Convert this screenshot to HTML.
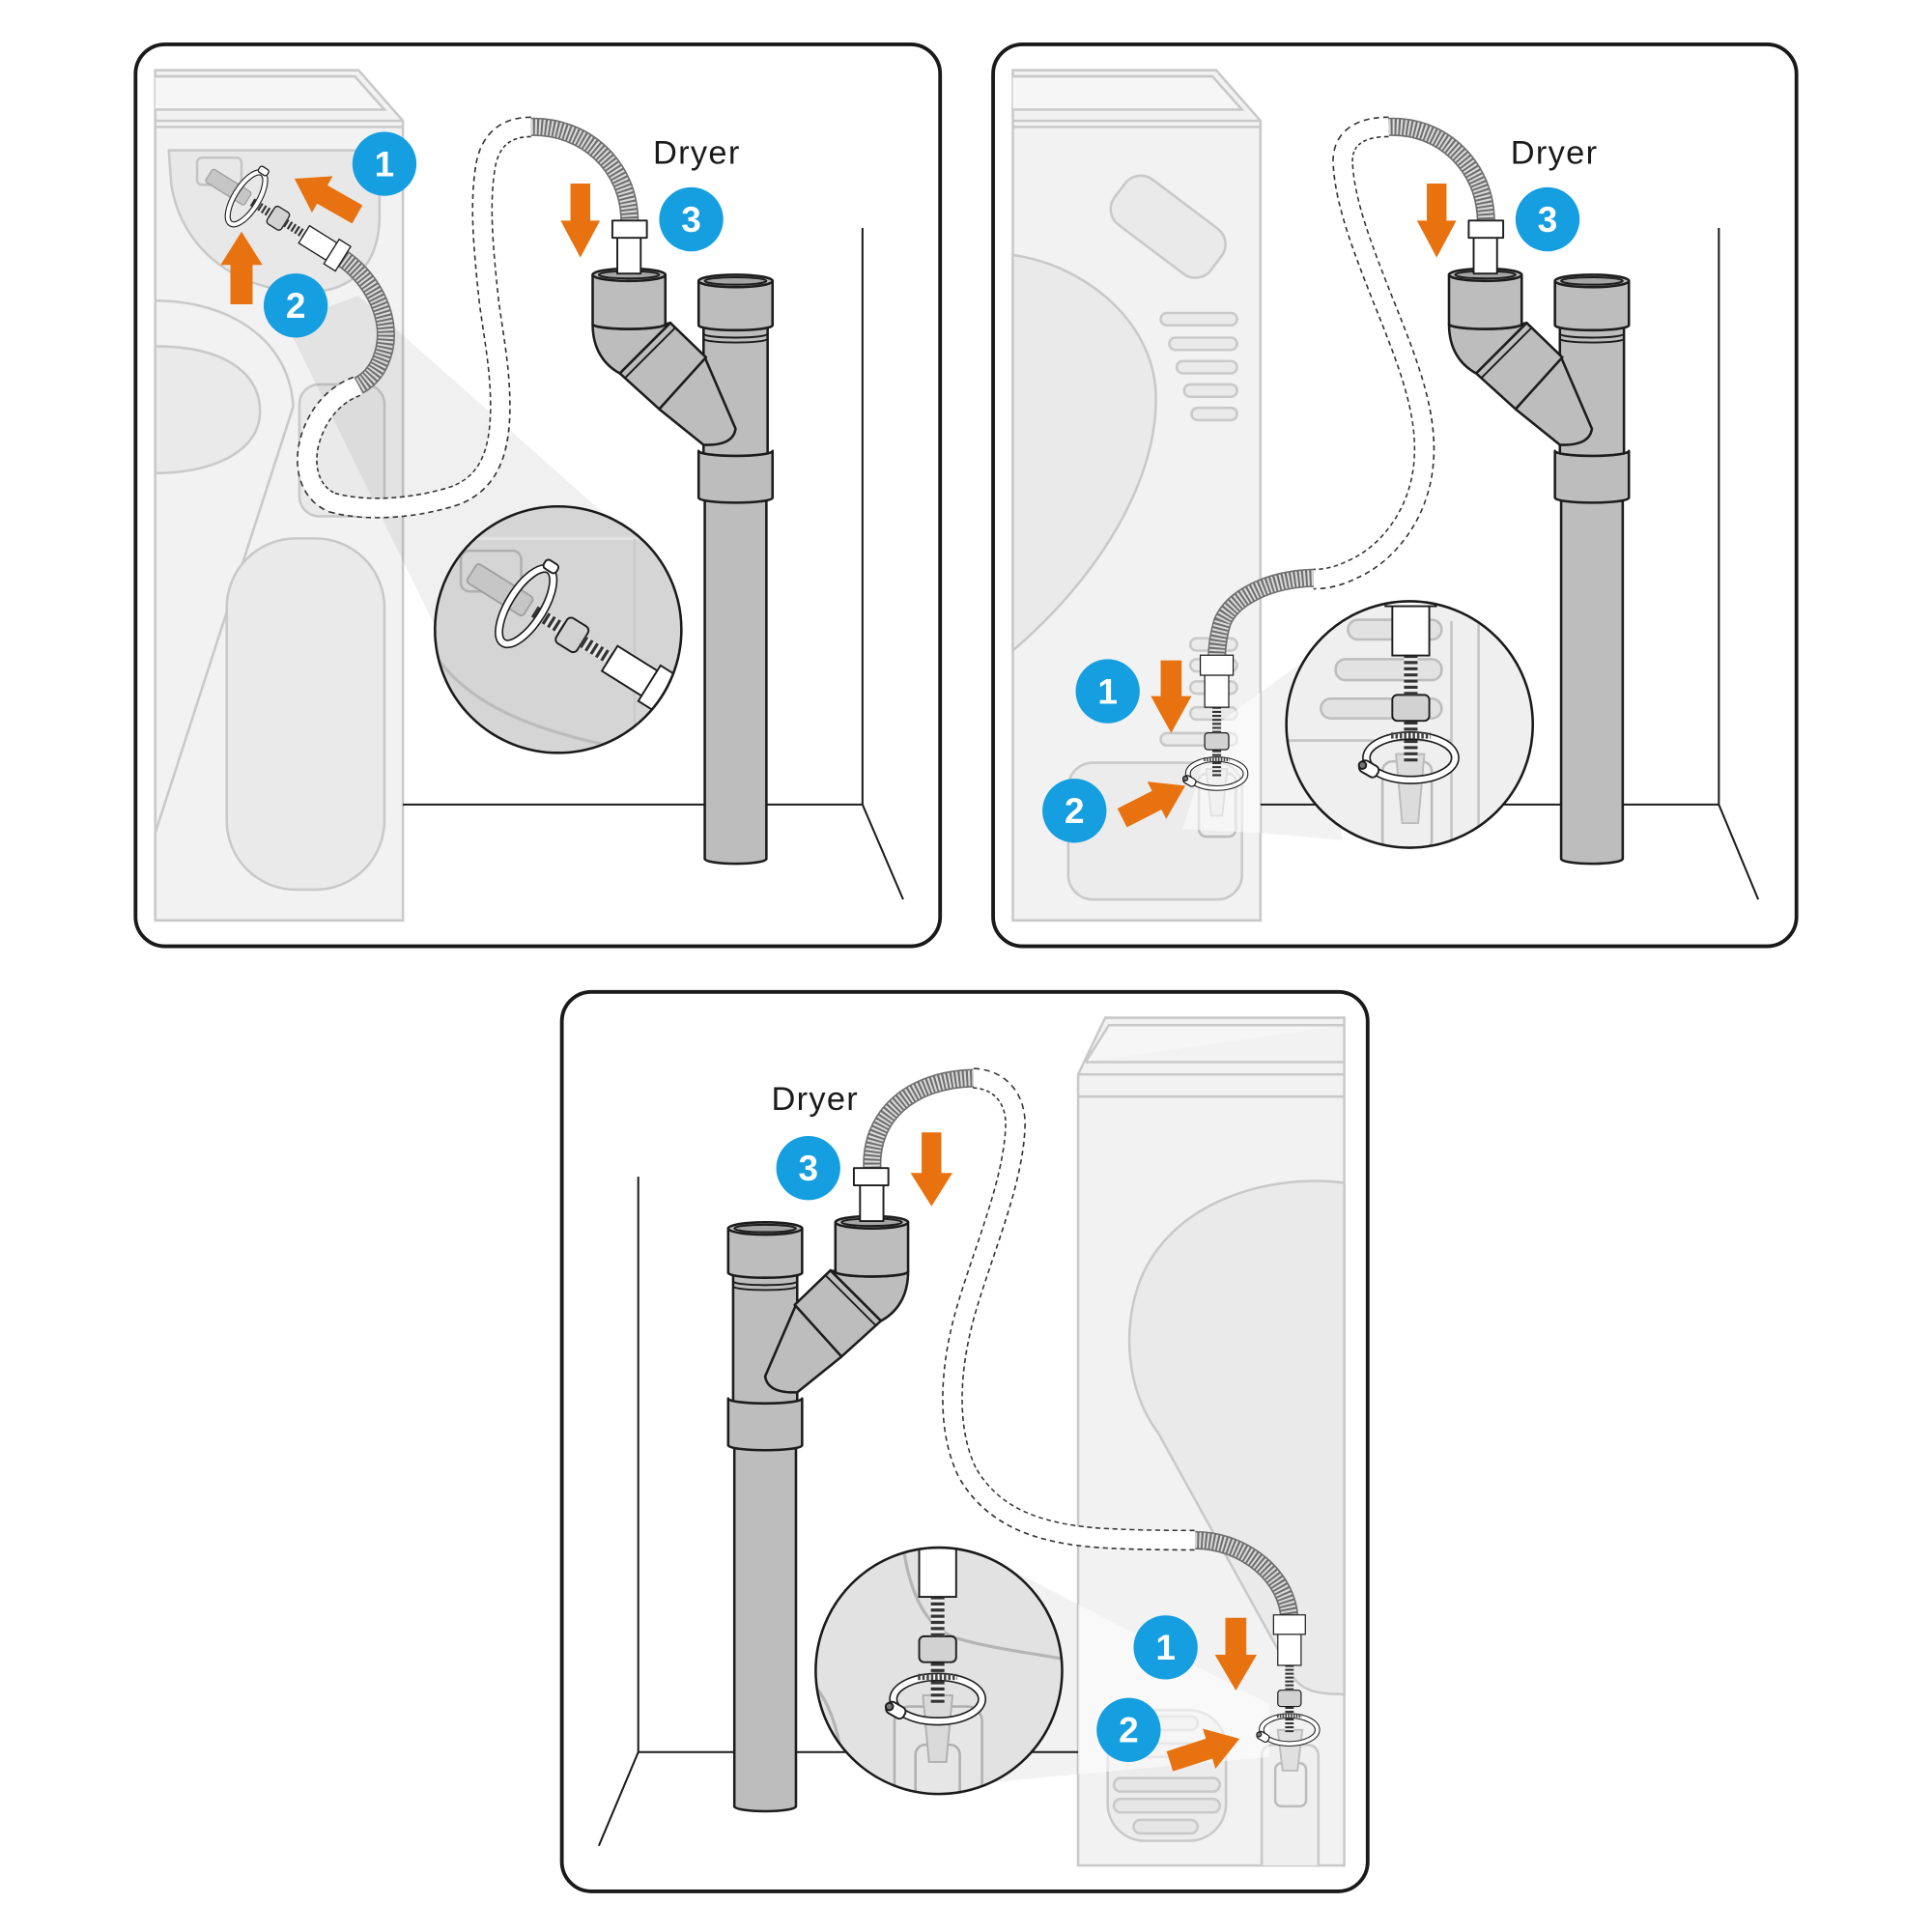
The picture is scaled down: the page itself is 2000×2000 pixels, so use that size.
<!DOCTYPE html>
<html><head><meta charset="utf-8">
<style>html,body{margin:0;padding:0;background:#fff}svg{display:block}</style>
</head><body>
<svg width="2000" height="2000" viewBox="0 0 1568 1568" xmlns="http://www.w3.org/2000/svg" font-family="'Liberation Sans', sans-serif">
<defs>
 <clipPath id="c1"><circle cx="453" cy="511" r="100"/></clipPath>
 <clipPath id="c2"><circle cx="1144" cy="588" r="100"/></clipPath>
 <clipPath id="c3"><circle cx="762" cy="1356" r="100"/></clipPath>
 <g id="pipe" stroke="#1c1c1c" stroke-width="2" stroke-linejoin="round" fill="#bdbdbd">
  <path d="M572,400 L572,697 A25,4 0 0 0 622,697 L622,400 Z"/>
  <rect x="571" y="262" width="52" height="110"/>
  <path d="M571,271 A26,3 0 0 0 623,271 M571,275 A26,3 0 0 0 623,275" fill="none" stroke-width="1.5"/>
  <path d="M567,366 A30,4 0 0 0 627,366 L627,404 A30,4 0 0 1 567,404 Z"/>
  <path d="M567,228 L567,264 A30,4 0 0 0 627,264 L627,228 Z"/>
  <ellipse cx="597" cy="228" rx="30" ry="5"/>
  <ellipse cx="597" cy="228" rx="25" ry="3" fill="#a5a5a5" stroke-width="1.5"/>
  <path d="M572,290 L597,348 Q595,362 571,361 L535,332 Z"/>
  <path d="M503,303 L544,262 L573,290 L535,332 Z"/>
  <path d="M507,307 L548,266" fill="none" stroke-width="1.5"/>
  <path d="M481,263 C481,283 490,296 503,303 L544,262 L540,263 A29.5,4 0 0 1 481,263 Z"/>
  <path d="M481,223 L481,263 A29.5,4 0 0 0 540,263 L540,223 Z"/>
  <ellipse cx="510.5" cy="223" rx="29.5" ry="5"/>
  <ellipse cx="510.5" cy="223" rx="24.5" ry="3" fill="#a5a5a5" stroke-width="1.5"/>
  <rect x="501" y="192" width="19" height="30" fill="#fff" stroke-width="1.5"/>
  <rect x="497" y="179" width="28" height="14" fill="#fff" stroke-width="1.5"/>
 </g>
 <g id="connD" stroke="#1c1c1c" stroke-width="1.5">
  <rect x="-52" y="-9" width="54" height="18" rx="3" fill="#c6c6c6" stroke="#a0a0a0"/>
  <line x1="8" y1="0" x2="34" y2="0" stroke="#e8e8e8" stroke-width="10"/>
  <line x1="8" y1="0" x2="34" y2="0" stroke="#333" stroke-width="10" stroke-dasharray="2.5 2.5"/>
  <rect x="34" y="-12" width="20" height="24" rx="4" fill="#d2d2d2"/>
  <line x1="54" y1="0" x2="80" y2="0" stroke="#e8e8e8" stroke-width="10"/>
  <line x1="54" y1="0" x2="80" y2="0" stroke="#333" stroke-width="10" stroke-dasharray="2.5 2.5"/>
  <rect x="80" y="-12" width="38" height="24" fill="#fff"/>
  <rect x="118" y="-17" width="16" height="34" fill="#fff"/>
  <ellipse cx="0" cy="0" rx="14" ry="35" fill="none" stroke="#1c1c1c" stroke-width="7"/>
  <ellipse cx="0" cy="0" rx="14" ry="35" fill="none" stroke="#fff" stroke-width="4.5"/>
  <rect x="-6" y="-42" width="12" height="8" rx="3" fill="#fff"/>
 </g>
 <g id="connV" stroke="#1c1c1c" stroke-width="1.5">
  <line x1="0" y1="6" x2="0" y2="-27" stroke="#eee" stroke-width="11"/>
  <line x1="0" y1="6" x2="0" y2="-27" stroke="#333" stroke-width="11" stroke-dasharray="2.5 2.5"/>
  <rect x="-15" y="-48" width="30" height="21" rx="4" fill="#d2d2d2"/>
  <line x1="0" y1="-48" x2="0" y2="-80" stroke="#eee" stroke-width="11"/>
  <line x1="0" y1="-48" x2="0" y2="-80" stroke="#333" stroke-width="11" stroke-dasharray="2.5 2.5"/>
  <rect x="-15" y="-120" width="30" height="40" fill="#fff"/>
  <rect x="-20.5" y="-145" width="41" height="25" fill="#fff"/>
  <ellipse cx="0" cy="3" rx="36" ry="18" fill="none" stroke="#1c1c1c" stroke-width="7"/>
  <ellipse cx="0" cy="3" rx="36" ry="18" fill="none" stroke="#fff" stroke-width="4.5"/>
  <line x1="-16" y1="-15" x2="16" y2="-15" stroke="#444" stroke-width="5" stroke-dasharray="2 1.5"/>
  <g transform="translate(-34,12) rotate(30)"><rect x="-8" y="-5" width="16" height="10" rx="4" fill="#fff"/><circle cx="-6" cy="0" r="3" fill="#777"/></g>
 </g>
</defs>

<!-- ================= PANEL 1 ================= -->
<g stroke="#c9c9c9" stroke-width="2" fill="#f2f2f2">
 <path d="M126,57 L291,57 L327,98 L327,747 L126,747 Z"/>
 <path d="M126,62 L288,62 L312,89 L126,89" fill="#f6f6f6"/>
 <path d="M126,98 L327,98 M126,103 L327,103" fill="none"/>
 <path d="M137,122 L308,122 L308,175 C308,215 285,237 250,237 C195,237 148,205 139,150 Z" fill="#e8e8e8"/>
 <rect x="160" y="128" width="36" height="22" rx="4" fill="none" stroke="#c4c4c4"/>
 <path d="M126,244 C185,244 235,275 238,330 L126,676" fill="none"/>
 <path d="M126,281 C185,281 212,305 211,335 C210,368 170,384 126,384 Z" fill="#eaeaea"/>
 <rect x="243" y="312" width="69" height="107" rx="16" fill="#eaeaea"/>
 <rect x="184" y="437" width="128" height="285" rx="56" fill="#eaeaea"/>
</g>
<polygon points="232,262 291,240 505,430 355,512" fill="#000" fill-opacity="0.06"/>
<g stroke="#1c1c1c" stroke-width="1.6" fill="none">
 <path d="M700,185 L700,653 L733,730 M327,653 L700,653"/>
</g>
<g clip-path="url(#c1)">
 <rect x="350" y="408" width="206" height="206" fill="#d5d5d5"/>
 <path d="M350,437 L556,437" stroke="#e2e2e2" stroke-width="2.5"/>
 <path d="M515,437 L515,610" stroke="#cbcbcb" stroke-width="1.5"/>
 <path d="M352,530 C375,565 420,592 510,608" stroke="#bcbcbc" stroke-width="2.5" fill="none"/>
 <rect x="374" y="447" width="49" height="33" rx="7" fill="none" stroke="#b0b0b0" stroke-width="2"/>
 <use href="#connD" transform="translate(427,492) rotate(32)"/>
</g>
<circle cx="453" cy="511" r="100" fill="none" stroke="#1a1a1a" stroke-width="2"/>
<!-- hoses -->
<path d="M431,103 C412,103 398,112 394,135 C389,165 392,200 397,246 C401,275 406,300 406,330 C406,370 395,392 370,402 C340,412 300,416 270,408 C250,400 244,375 254,350 C262,330 276,318 291,313" fill="none" stroke="#333" stroke-width="17" stroke-dasharray="4 3"/>
<path d="M431,103 C412,103 398,112 394,135 C389,165 392,200 397,246 C401,275 406,300 406,330 C406,370 395,392 370,402 C340,412 300,416 270,408 C250,400 244,375 254,350 C262,330 276,318 291,313" fill="none" stroke="#fff" stroke-width="14.5"/>
<g fill="none">
 <path d="M431,103 C475,102 511,135 511,180" stroke="#6e6e6e" stroke-width="15"/>
 <path d="M431,103 C475,102 511,135 511,180" stroke="#dadada" stroke-width="12.5" stroke-dasharray="1.6 1.6"/>
 <path d="M277,209 C300,224 318,255 312,283 C308,300 300,308 291,313" stroke="#6e6e6e" stroke-width="15"/>
 <path d="M277,209 C300,224 318,255 312,283 C308,300 300,308 291,313" stroke="#dadada" stroke-width="12.5" stroke-dasharray="1.6 1.6"/>
</g>
<use href="#pipe"/>
<use href="#connD" transform="translate(200,161) rotate(32) scale(0.69)"/>
<g fill="#e8720f">
 <polygon points="294.2,166.6 265.8,150.4 270,143 239,145 253.2,172.6 257.4,165.2 285.8,181.4"/>
 <polygon points="187,247 187,215 179,215 196,188 213,215 205,215 205,247"/>
 <polygon points="463,149 463,179 455,179 471,209 487,179 479,179 479,149"/>
</g>
<g fill="#159ee0"><circle cx="312" cy="133" r="26"/><circle cx="240" cy="248" r="26"/><circle cx="561" cy="178" r="26"/></g>
<g fill="#fff" font-weight="bold" font-size="29" text-anchor="middle">
 <text x="312" y="143">1</text><text x="240" y="258">2</text><text x="561" y="188">3</text>
</g>
<text x="530" y="133" font-size="27" fill="#1a1a1a" textLength="70">Dryer</text>
<rect x="110" y="36" width="653" height="732" rx="24" fill="none" stroke="#1a1a1a" stroke-width="3"/>

<!-- ================= PANEL 2 ================= -->
<g stroke="#c9c9c9" stroke-width="2" fill="#f2f2f2">
 <path d="M822,57 L987,57 L1023,98 L1023,747 L822,747 Z"/>
 <path d="M822,62 L984,62 L1008,89 L822,89" fill="#f6f6f6"/>
 <path d="M822,98 L1023,98 M822,103 L1023,103" fill="none"/>
 <path d="M822,207 C880,215 935,260 938,318 C941,390 890,470 822,528 Z" fill="#eaeaea"/>
 <rect x="-49" y="-23" width="98" height="46" rx="16" transform="translate(948,184) rotate(37)" fill="#eaeaea"/>
 <g fill="#eaeaea">
  <rect x="942" y="254" width="62" height="10" rx="5"/>
  <rect x="949" y="274" width="55" height="10" rx="5"/>
  <rect x="955" y="293" width="49" height="10" rx="5"/>
  <rect x="961" y="312" width="43" height="10" rx="5"/>
  <rect x="967" y="331" width="37" height="10" rx="5"/>
  <rect x="966" y="518" width="38" height="10" rx="5"/>
  <rect x="966" y="535" width="38" height="10" rx="5"/>
  <rect x="966" y="553" width="38" height="10" rx="5"/>
  <rect x="966" y="574" width="38" height="10" rx="5"/>
  <rect x="942" y="595" width="62" height="10" rx="5"/>
 </g>
 <rect x="867" y="619" width="141" height="111" rx="20" fill="#ececec"/>
 <rect x="973" y="628" width="30" height="51" rx="6" fill="none" stroke="#bdbdbd"/>
 <path d="M979,624 L996,624 L992,662 L983,662 Z" fill="#e0e0e0" stroke="#bdbdbd" stroke-width="1.5"/>
</g>
<polygon points="985,590 1023,562 1023,676 960,673" fill="#fff" fill-opacity="0.55"/>
<polygon points="1023,562 1060,535 1090,682 1023,676" fill="#000" fill-opacity="0.05"/>
<g stroke="#1c1c1c" stroke-width="1.6" fill="none">
 <path d="M1395,185 L1395,653 L1427,730 M1023,653 L1395,653"/>
</g>
<g clip-path="url(#c2)">
 <rect x="1040" y="485" width="210" height="210" fill="#efefef"/>
 <g fill="#e2e2e2" stroke="#bdbdbd" stroke-width="2">
  <rect x="1094" y="503" width="76" height="16" rx="8"/>
  <rect x="1084" y="535" width="86" height="17" rx="8"/>
  <rect x="1072" y="567" width="98" height="16" rx="8"/>
 </g>
 <path d="M1040,601 L1178,601 M1178,504 L1178,700 M1200,504 L1200,700" stroke="#c4c4c4" stroke-width="2" fill="none"/>
 <rect x="1122" y="618" width="40" height="72" rx="8" fill="none" stroke="#bbb" stroke-width="2"/>
 <path d="M1133,612 L1156,612 L1151,668 L1138,668 Z" fill="#dcdcdc" stroke="#bbb" stroke-width="1.5"/>
 <use href="#connV" transform="translate(1145,612)"/>
</g>
<circle cx="1144" cy="588" r="100" fill="none" stroke="#1a1a1a" stroke-width="2"/>
<path d="M1127,103 C1100,103 1088,115 1090,135 C1092,165 1105,200 1125,250 C1145,300 1160,340 1155,380 C1150,420 1125,450 1098,462 C1088,467 1078,470 1066,470" fill="none" stroke="#333" stroke-width="17" stroke-dasharray="4 3"/>
<path d="M1127,103 C1100,103 1088,115 1090,135 C1092,165 1105,200 1125,250 C1145,300 1160,340 1155,380 C1150,420 1125,450 1098,462 C1088,467 1078,470 1066,470" fill="none" stroke="#fff" stroke-width="14.5"/>
<g fill="none">
 <path d="M1127,103 C1170,101 1206,135 1206,180" stroke="#6e6e6e" stroke-width="15"/>
 <path d="M1127,103 C1170,101 1206,135 1206,180" stroke="#dadada" stroke-width="12.5" stroke-dasharray="1.6 1.6"/>
 <path d="M1066,469 C1030,470 1000,485 992,505 C988,518 987.5,528 987.5,536" stroke="#6e6e6e" stroke-width="15"/>
 <path d="M1066,469 C1030,470 1000,485 992,505 C988,518 987.5,528 987.5,536" stroke="#dadada" stroke-width="12.5" stroke-dasharray="1.6 1.6"/>
</g>
<use href="#pipe" transform="translate(695,0)"/>
<use href="#connV" transform="translate(987.5,626) scale(0.65)"/>
<g fill="#e8720f">
 <polygon points="1158,149 1158,179 1150,179 1166,209 1182,179 1174,179 1174,149"/>
 <polygon points="942,536 942,565 934,565 950.5,595 967,565 959,565 959,536"/>
 <polygon points="906.9,656.2 935,641.9 931.1,634.4 962,637.7 946.5,664.6 942.6,657.1 914.6,671.4"/>
</g>
<g fill="#159ee0"><circle cx="899" cy="561" r="26"/><circle cx="872" cy="658" r="26"/><circle cx="1256" cy="178" r="26"/></g>
<g fill="#fff" font-weight="bold" font-size="29" text-anchor="middle">
 <text x="899" y="571">1</text><text x="872" y="668">2</text><text x="1256" y="188">3</text>
</g>
<text x="1226" y="133" font-size="27" fill="#1a1a1a" textLength="70">Dryer</text>
<rect x="806" y="36" width="652" height="732" rx="24" fill="none" stroke="#1a1a1a" stroke-width="3"/>

<!-- ================= PANEL 3 ================= -->
<g stroke="#c9c9c9" stroke-width="2" fill="#f2f2f2">
 <path d="M875,872 L897,826 L1091,826 L1091,1514 L875,1514 Z"/>
 <path d="M881,862 L900,832 L1091,832 M881,862 L1091,862" fill="#f6f6f6"/>
 <path d="M875,872 L1091,872 M875,890 L1091,890" fill="none"/>
 <path d="M1091,960 C1030,952 950,975 925,1040 C910,1080 915,1130 940,1163 L1050,1362 C1058,1372 1068,1375 1091,1375 Z" fill="#eaeaea"/>
 <rect x="899" y="1388" width="96" height="106" rx="30" fill="#ececec"/>
 <g fill="#e6e6e6">
  <rect x="908" y="1393" width="64" height="11" rx="5.5"/>
  <rect x="904" y="1415" width="84" height="11" rx="5.5"/>
  <rect x="904" y="1443" width="86" height="11" rx="5.5"/>
  <rect x="904" y="1460" width="86" height="11" rx="5.5"/>
  <rect x="920" y="1477" width="52" height="11" rx="5.5"/>
 </g>
 <path d="M1024,1514 L1024,1426 Q1024,1416 1034,1416 L1060,1416 Q1070,1416 1070,1426 L1070,1514" fill="#efefef"/>
 <rect x="1035" y="1431" width="25" height="35" rx="5" fill="none" stroke="#bdbdbd"/>
 <path d="M1037,1404 L1057,1404 L1053,1437 L1041,1437 Z" fill="#e0e0e0" stroke="#bdbdbd" stroke-width="1.5"/>
</g>
<polygon points="813,1270 875,1302 875,1440 800,1447" fill="#000" fill-opacity="0.05"/>
<polygon points="875,1302 1030,1383 1030,1426 875,1440" fill="#fff" fill-opacity="0.55"/>
<g stroke="#1c1c1c" stroke-width="1.6" fill="none">
 <path d="M518,955 L518,1422 L486,1498 M518,1422 L875,1422"/>
</g>
<g clip-path="url(#c3)">
 <rect x="660" y="1254" width="205" height="205" fill="#e2e2e2"/>
 <path d="M733,1255 C738,1290 750,1322 778,1330 C805,1338 840,1342 866,1347" stroke="#b5b5b5" stroke-width="2.5" fill="none"/>
 <path d="M662,1369 C675,1385 683,1410 688,1460" stroke="#b5b5b5" stroke-width="2.5" fill="none"/>
 <rect x="726" y="1385" width="71" height="100" rx="12" fill="#e6e6e6" stroke="#b0b0b0" stroke-width="2"/>
 <rect x="743" y="1416" width="36" height="60" rx="8" fill="none" stroke="#b0b0b0" stroke-width="2"/>
 <path d="M749,1376 L773,1376 L768,1430 L754,1430 Z" fill="#dadada" stroke="#b0b0b0" stroke-width="1.5"/>
 <use href="#connV" transform="translate(761,1376)"/>
</g>
<circle cx="762" cy="1356" r="100" fill="none" stroke="#1a1a1a" stroke-width="2"/>
<path d="M790,875 C812,876 825,892 824,915 C822,960 800,1010 785,1060 C770,1110 768,1160 785,1195 C805,1230 840,1244 890,1248 C920,1250 950,1250 970,1250" fill="none" stroke="#333" stroke-width="17" stroke-dasharray="4 3"/>
<path d="M790,875 C812,876 825,892 824,915 C822,960 800,1010 785,1060 C770,1110 768,1160 785,1195 C805,1230 840,1244 890,1248 C920,1250 950,1250 970,1250" fill="none" stroke="#fff" stroke-width="14.5"/>
<g fill="none">
 <path d="M708,950 C705,905 740,876 790,875" stroke="#6e6e6e" stroke-width="15"/>
 <path d="M708,950 C705,905 740,876 790,875" stroke="#dadada" stroke-width="12.5" stroke-dasharray="1.6 1.6"/>
 <path d="M970,1250 C1010,1250 1046,1280 1046.5,1315" stroke="#6e6e6e" stroke-width="15"/>
 <path d="M970,1250 C1010,1250 1046,1280 1046.5,1315" stroke="#dadada" stroke-width="12.5" stroke-dasharray="1.6 1.6"/>
</g>
<use href="#pipe" transform="translate(1218,769) scale(-1,1)"/>
<use href="#connV" transform="translate(1046.5,1402) scale(0.63)"/>
<g fill="#e8720f">
 <polygon points="748,919 748,952 739,952 756,979 773,952 764,952 764,919"/>
 <polygon points="994.5,1313 994.5,1343 986,1343 1003,1372 1020,1343 1011.5,1343 1011.5,1313"/>
 <polygon points="946.8,1421.4 978.7,1411.1 976.1,1403 1006,1411.2 986.5,1435.4 983.9,1427.3 952,1437.6"/>
</g>
<g fill="#159ee0"><circle cx="946" cy="1337" r="26"/><circle cx="916" cy="1404" r="26"/><circle cx="656" cy="948" r="26"/></g>
<g fill="#fff" font-weight="bold" font-size="29" text-anchor="middle">
 <text x="946" y="1347">1</text><text x="916" y="1414">2</text><text x="656" y="958">3</text>
</g>
<text x="626" y="901" font-size="27" fill="#1a1a1a" textLength="70">Dryer</text>
<rect x="456" y="805" width="654" height="730" rx="24" fill="none" stroke="#1a1a1a" stroke-width="3"/>
</svg>
</body></html>
